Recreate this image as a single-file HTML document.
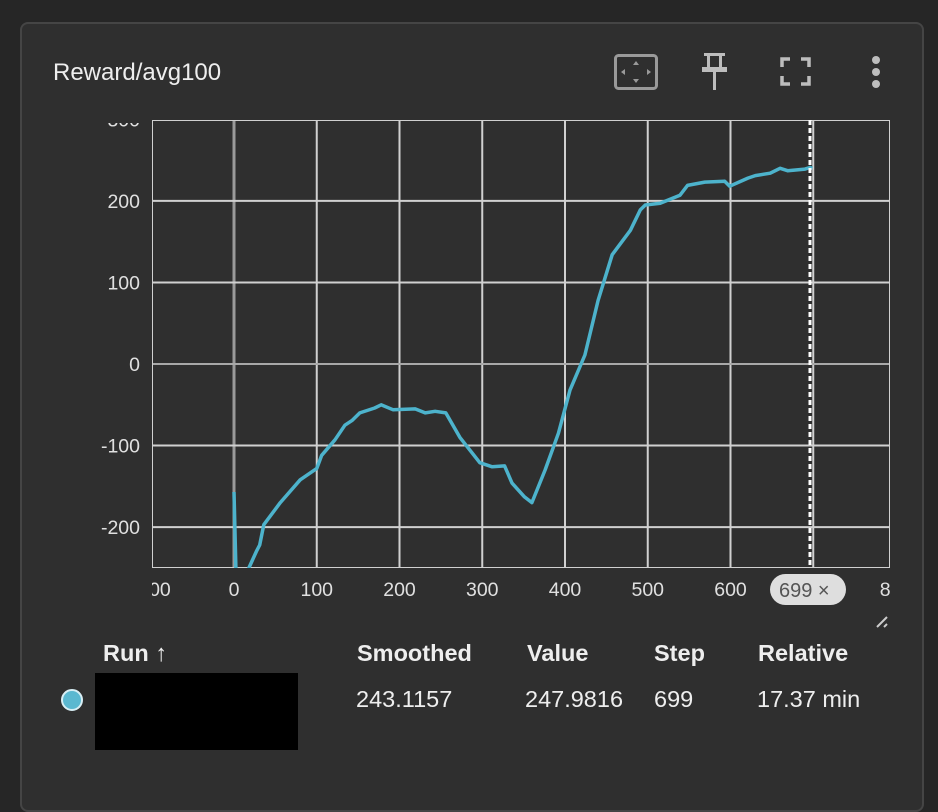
<!DOCTYPE html>
<html><head><meta charset="utf-8">
<style>
html,body{margin:0;padding:0;background:#262626;width:938px;height:788px;overflow:hidden;font-family:"Liberation Sans",sans-serif;}
#card{position:absolute;left:20px;top:22px;width:904px;height:790px;background:#2f2f2f;border:2px solid #454545;border-radius:8px;box-sizing:border-box;}
.t{position:absolute;color:#eee;font-size:23.5px;white-space:nowrap;}
.h{font-weight:bold;}
</style></head><body>
<div id="card"></div>
<div class="t" style="left:53px;top:59px;font-size:24px">Reward/avg100</div>
<svg width="938" height="788" style="position:absolute;left:0;top:0" id="svg">
 <g><rect x="615.5" y="55.5" width="41" height="33" rx="3" fill="none" stroke="#9a9a9a" stroke-width="3"/>
  <path d="M636 61l-3 4h6zM636 83l-3-4h6zM621 72l4-3v6zM651 72l-4-3v6z" fill="#9a9a9a"/></g>
 <g fill="#bdbdbd"><rect x="704" y="53" width="21" height="3"/><rect x="707" y="55" width="3" height="13"/><rect x="719" y="55" width="3" height="13"/><rect x="702" y="67" width="25" height="5"/><rect x="713" y="71" width="3" height="19"/></g>
 <g fill="none" stroke="#bdbdbd" stroke-width="3.5"><path d="M782 67v-8h8M801 59h8v8M809 76v8h-8M790 84h-8v-8"/></g>
 <g fill="#bdbdbd"><circle cx="876" cy="60" r="4"/><circle cx="876" cy="72" r="4"/><circle cx="876" cy="84" r="4"/></g>
 <defs><clipPath id="plot"><rect x="152" y="120" width="738" height="448"/></clipPath>
 <clipPath id="xl"><rect x="152" y="570" width="738" height="40"/></clipPath>
 <clipPath id="yl"><rect x="60" y="123" width="90" height="450"/></clipPath></defs>
 <g id="grid" clip-path="url(#plot)"></g>
 <g id="yt" clip-path="url(#yl)"></g>
 <g id="xt" clip-path="url(#xl)"></g>
 <g id="series" clip-path="url(#plot)"></g>
 <line x1="810" y1="120" x2="810" y2="568" stroke="#fff" stroke-width="3" stroke-dasharray="5,3"/>
 <g><rect x="770" y="574" width="76" height="31" rx="15.5" fill="#dedede"/>
 <text x="779" y="597" font-size="20" fill="#555" font-family="Liberation Sans">699 ×</text></g>
 <path d="M877 627l10-10M884 627l3-3" stroke="#ccc" stroke-width="2"/>
 <circle cx="72" cy="700" r="10" fill="#5bb8d0" stroke="#d8eef4" stroke-width="2"/>
 <rect x="95" y="673" width="203" height="77" fill="#000"/>
</svg>
<div class="t h" style="left:103px;top:640px">Run ↑</div>
<div class="t h" style="left:357px;top:640px">Smoothed</div>
<div class="t h" style="left:527px;top:640px">Value</div>
<div class="t h" style="left:654px;top:640px">Step</div>
<div class="t h" style="left:758px;top:640px">Relative</div>
<div class="t" style="left:356px;top:686px">243.1157</div>
<div class="t" style="left:525px;top:686px">247.9816</div>
<div class="t" style="left:654px;top:686px">699</div>
<div class="t" style="left:757px;top:686px">17.37 min</div>
<script>
const steps=[0,4,18,27,31,36,56,80,100,106,122,134,143,152,170,178,192,219,231,243,256,273,297,312,327,336,351,360,376,392,406,424,440,457,479,491,497,515,539,548,569,593,599,621,630,648,660,669,690,696,699];
const values=[-157,-320,-250,-230,-222,-197,-170,-142,-128,-112,-93,-75,-69,-60,-54,-50,-56,-55,-60,-58,-60,-90,-121,-126,-125,-146,-163,-170,-130,-85,-32,11,78,134,164,189,195,197,207,219,223,224,218,228,231,234,240,237,239,241,240];
const xTicks=[-100,0,100,200,300,400,500,600,700,800];
const yTicks=[-200,-100,0,100,200,300];
const NS="http://www.w3.org/2000/svg";
const X=v=>234+v*0.8275, Y=v=>364-v*0.8155;
const grid=document.getElementById('grid'),yt=document.getElementById('yt'),xt=document.getElementById('xt');
function mk(tag,attrs,parent){const e=document.createElementNS(NS,tag);for(const k in attrs)e.setAttribute(k,attrs[k]);parent.appendChild(e);return e;}
xTicks.forEach(v=>{
 const l=mk('line',{x1:X(v),x2:X(v),y1:120,y2:568,stroke:v===0?'#9a9a9a':'#d0d0d0','stroke-width':v===0?3:2},grid);
 
 
 const t=mk('text',{x:X(v),y:596,'text-anchor':'middle','font-size':19.5,fill:'#e0e0e0','font-family':'Liberation Sans'},xt);
 t.textContent=v;
 
 
});
yTicks.forEach(v=>{
 const l=mk('line',{x1:152,x2:890,y1:Y(v),y2:Y(v),stroke:v===0?'#a8a8a8':'#d0d0d0','stroke-width':2},grid);
 
 
 const t=mk('text',{x:140,y:Y(v)+7,'text-anchor':'end','font-size':19.5,fill:'#e0e0e0','font-family':'Liberation Sans'},yt);
 t.textContent=v;
 
 
});
mk('rect',{x:152,y:120,width:738,height:448,fill:'none',stroke:'#d0d0d0','stroke-width':2},grid);
const d=steps.map((s,i)=>(i?'L':'M')+X(s).toFixed(1)+' '+Y(values[i]).toFixed(1)).join(' ');
const p=mk('path',{d:d,fill:'none',stroke:'#4db3cc','stroke-width':3.5,'stroke-linejoin':'round'},document.getElementById('series'));


</script>
</body></html>
